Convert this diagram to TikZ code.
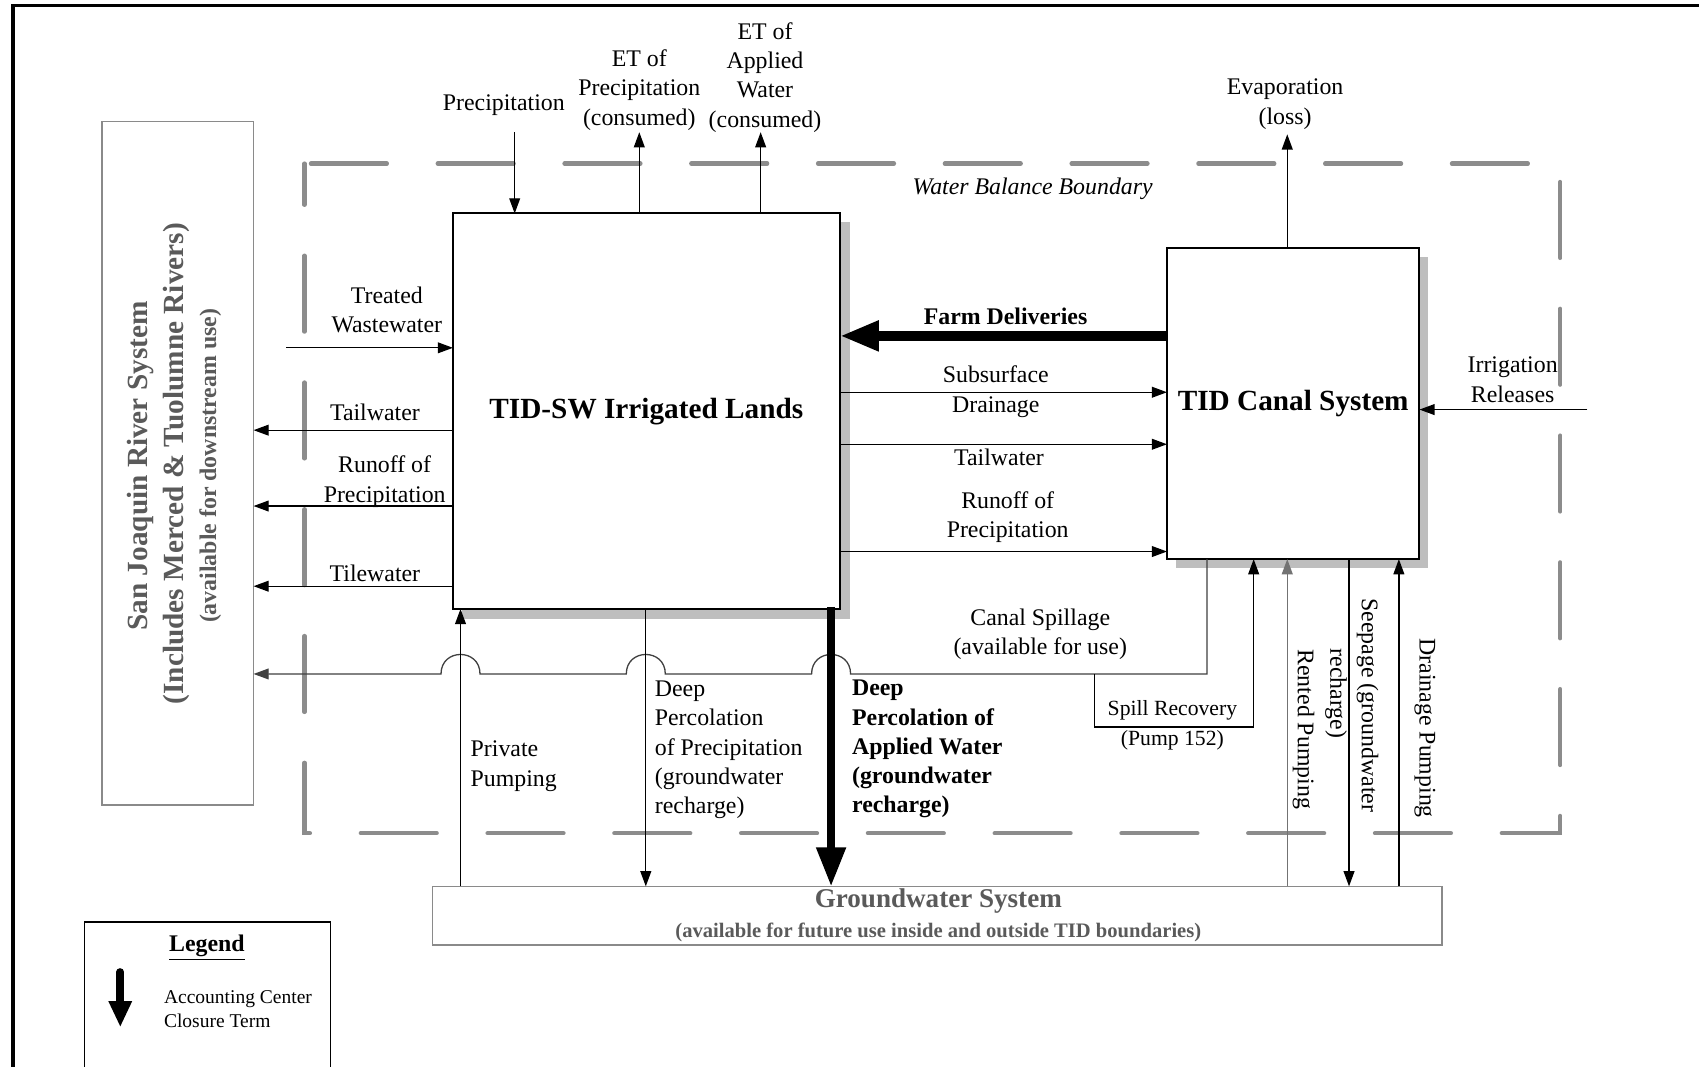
\documentclass[tikz,border=0pt]{standalone}
\usepackage{fontspec}
\setmainfont{Liberation Serif}
\usetikzlibrary{arrows.meta,calc,backgrounds}
\definecolor{dashgray}{HTML}{8C8C8C}
\definecolor{shadowgray}{HTML}{BEBEBE}
\definecolor{boxgray}{HTML}{8A8A8A}
\definecolor{txtgray}{HTML}{5A5A5A}
\begin{document}
\begin{tikzpicture}[x=0.5pt,y=-0.5pt,
  lbl/.style={font=\fontsize{11}{13.5}\selectfont, align=center, inner sep=0pt},
  lbll/.style={font=\fontsize{11}{13.5}\selectfont, align=left, inner sep=0pt, anchor=west},
  arr/.style={line width=0.6pt, -{Triangle[length=7pt,width=5pt]}},
  ln/.style={line width=0.6pt},
  mainbox/.style={draw, line width=0.9pt, fill=white, inner sep=0pt, outer sep=0pt},
  greybox/.style={draw=boxgray, line width=0.7pt, fill=white, inner sep=0pt, outer sep=0pt},
  bigarr/.style={-{Triangle[length=18pt,width=13pt]}},
  vtext/.style={font=\fontsize{11}{13.5}\selectfont, inner sep=0pt, rotate=-90}
]
\useasboundingbox (0,0) rectangle (1568,984);
\clip (0,0) rectangle (1568,984);

% outer frame
\draw[line width=1.4pt] (12,1000) -- (12,5) -- (1580,5);

% water balance boundary
\draw[dashgray, line width=2pt, line cap=round, dash pattern=on 35pt off 23.5pt, dash phase=16pt]
  (281,151) rectangle (1440,769);
\node[font=\fontsize{11}{13.5}\selectfont\itshape, inner sep=0pt] (wbb) at (953,174) {Water Balance Boundary};

% main boxes
\node[greybox, minimum width=70pt, minimum height=315.5pt] (sj) at (164,427.5) {};
\node[rotate=90, text=txtgray, font=\fontsize{13.5}{16}\selectfont\bfseries, inner sep=0pt] (sj1) at (130,430) {San Joaquin River System};
\node[rotate=90, text=txtgray, font=\fontsize{13.5}{16}\selectfont\bfseries, inner sep=0pt] (sj2) at (163,428) {(Includes Merced \& Tuolumne Rivers)};
\node[rotate=90, text=txtgray, font=\fontsize{11}{13.5}\selectfont\bfseries, inner sep=0pt] (sj3) at (194,430) {(available for downstream use)};

\node[mainbox, minimum width=178.5pt, minimum height=182.5pt, font=\fontsize{13.5}{16}\selectfont\bfseries] (sw) at (596.5,379.5) {TID-SW Irrigated Lands};
\node[mainbox, minimum width=116.5pt, minimum height=143.5pt, font=\fontsize{13.5}{16}\selectfont\bfseries] (cs) at (1193.5,372.5) {TID Canal System};
\node[greybox, minimum width=466pt, minimum height=27pt] (gw) at (865,845) {};
\node[text=txtgray, font=\fontsize{12.5}{15}\selectfont\bfseries, inner sep=0pt] (gw1) at (866,832) {Groundwater System};
\node[text=txtgray, font=\fontsize{9.5}{12}\selectfont\bfseries, inner sep=0pt] (gw2) at (866,861) {(available for future use inside and outside TID boundaries)};

\begin{scope}[on background layer]
  \fill[white] (0,0) rectangle (1568,984);
  \fill[shadowgray] ($(sw.south west)+(8,9)$) rectangle ($(sw.north east)+(9,8)$);
  \fill[shadowgray] ($(cs.south west)+(8,8)$) rectangle ($(cs.north east)+(8,8)$);
\end{scope}

% legend
\draw[line width=0.9pt] (78,1000) -- (78,851) -- (305,851) -- (305,1000);
\node[font=\fontsize{11}{13.5}\selectfont\bfseries, inner sep=0pt] (legt) at (191,875) {\underline{Legend}};
\coordinate (la1) at (111,897);
\coordinate (la2) at (111,948);
\draw[line width=3.5pt, line cap=round, -{Triangle[length=12pt,width=10pt]}] (la1) -- (la2);
\node[font=\fontsize{9}{11}\selectfont, align=left, inner sep=0pt, anchor=west] (legx) at (151,931) {Accounting Center\\Closure Term};

% coordinates
\coordinate (pin) at (475,122);
\coordinate (etp) at (590,122);
\coordinate (eta) at (702,122);
\coordinate (evp) at (1188,124);
\coordinate (tw0) at (264,321);
\coordinate (rTL) at (0,397);
\coordinate (rRO) at (0,467);
\coordinate (rTI) at (0,541);
\coordinate (rSP) at (0,622);
\coordinate (rFD) at (0,310);
\coordinate (rSD) at (0,362);
\coordinate (rTR) at (0,410);
\coordinate (rRR) at (0,509);
\coordinate (irr) at (1465,378);
\coordinate (cPP) at (425,0);
\coordinate (cDP) at (596,0);
\coordinate (cDA) at (767,0);
\coordinate (cCS) at (1114,0);
\coordinate (cRP) at (1188,0);
\coordinate (cSE) at (1245,0);
\coordinate (cDR) at (1291,0);
\coordinate (sr1) at (1010,622);
\coordinate (sr2) at (1010,671);
\coordinate (sr3) at (1157,671);

% top arrows
\node[lbl] (lpr) at (465,97) {Precipitation};
\draw[arr] (pin) -- (pin |- sw.north);
\node[lbl] (letp) at (590,83) {ET of\\Precipitation\\(consumed)};
\draw[arr] (etp |- sw.north) -- (etp);
\node[lbl] (leta) at (706,71.5) {ET of\\Applied\\Water\\(consumed)};
\draw[arr] (eta |- sw.north) -- (eta);
\node[lbl] (levp) at (1186,96) {Evaporation\\(loss)};
\draw[arr] (evp |- cs.north) -- (evp);

% left side
\node[lbl] (ltw) at (357,286) {Treated\\Wastewater};
\draw[arr] (tw0) -- (tw0 -| sw.west);
\node[lbl] (ltl) at (346,381) {Tailwater};
\draw[arr] (sw.west |- rTL) -- (sj.east |- rTL);
\node[lbl] (lro) at (355,444.5) {Runoff of\\Precipitation};
\draw[arr] (sw.west |- rRO) -- (sj.east |- rRO);
\node[lbl] (lti) at (346,529) {Tilewater};
\draw[arr] (sw.west |- rTI) -- (sj.east |- rTI);

% canal spillage with hops
\node[lbl] (lcs) at (960,585.5) {Canal Spillage\\(available for use)};
\draw[line width=0.6pt, black!75, -{Triangle[length=7pt,width=5pt]}]
  (cs.south -| cCS) -- (cCS |- rSP) -- ($(cDA |- rSP)+(18,0)$)
  .. controls ($(cDA |- rSP)+(18,-24)$) and ($(cDA |- rSP)+(-18,-24)$) .. ($(cDA |- rSP)+(-18,0)$)
  -- ($(cDP |- rSP)+(18,0)$)
  .. controls ($(cDP |- rSP)+(18,-24)$) and ($(cDP |- rSP)+(-18,-24)$) .. ($(cDP |- rSP)+(-18,0)$)
  -- ($(cPP |- rSP)+(18,0)$)
  .. controls ($(cPP |- rSP)+(18,-24)$) and ($(cPP |- rSP)+(-18,-24)$) .. ($(cPP |- rSP)+(-18,0)$)
  -- (sj.east |- rSP);

% spill recovery
\draw[arr] (sr1) -- (sr2) -- (sr3) -- (sr3 |- cs.south);
\node[font=\fontsize{10}{12}\selectfont, inner sep=0pt] (lsr) at (1082,656) {Spill Recovery};
\node[font=\fontsize{10}{12}\selectfont, inner sep=0pt] (lsr2) at (1082,683) {(Pump 152)};

% between boxes
\draw[line width=4.5pt, bigarr] (cs.west |- rFD) -- (sw.east |- rFD);
\node[font=\fontsize{11}{13.5}\selectfont\bfseries, inner sep=0pt] (lfd) at (928,292) {Farm Deliveries};
\node[lbl] (lsd) at (919,361.5) {Subsurface\\Drainage};
\draw[arr] (sw.east |- rSD) -- (cs.west |- rSD);
\node[lbl] (ltr) at (922,422) {Tailwater};
\draw[arr] (sw.east |- rTR) -- (cs.west |- rTR);
\node[lbl] (lrr) at (930,477) {Runoff of\\Precipitation};
\draw[arr] (sw.east |- rRR) -- (cs.west |- rRR);

% irrigation releases
\node[lbl] (lir) at (1396,350.5) {Irrigation\\Releases};
\draw[arr] (irr) -- (irr -| cs.east);

% bottom of TID-SW
\draw[arr] (gw.north -| cPP) -- (sw.south -| cPP);
\node[lbll] (lpp) at (434,707) {Private\\Pumping};
\draw[arr] (sw.south -| cDP) -- (gw.north -| cDP);
\node[lbll] (ldp) at (604,692) {Deep\\Percolation\\of Precipitation\\(groundwater\\recharge)};
\draw[line width=3.5pt, bigarr] ($(sw.south -| cDA)+(0,-2)$) -- (gw.north -| cDA);
\node[lbll, font=\fontsize{11}{13.5}\selectfont\bfseries] (lda) at (786,691.5) {Deep\\Percolation of\\Applied Water\\(groundwater\\recharge)};

% bottom of canal
\draw[arr, black!55] (gw.north -| cRP) -- (cs.south -| cRP);
\draw[arr] (cs.south -| cSE) -- (gw.north -| cSE);
\draw[arr] (gw.north -| cDR) -- (cs.south -| cDR);
\node[vtext] (lrp) at (1203,673) {Rented Pumping};
\node[vtext] (lse1) at (1262,651) {Seepage (groundwater};
\node[vtext] (lse2) at (1233,640) {recharge)};
\node[vtext] (ldr) at (1315,672) {Drainage Pumping};
\end{tikzpicture}
\end{document}
